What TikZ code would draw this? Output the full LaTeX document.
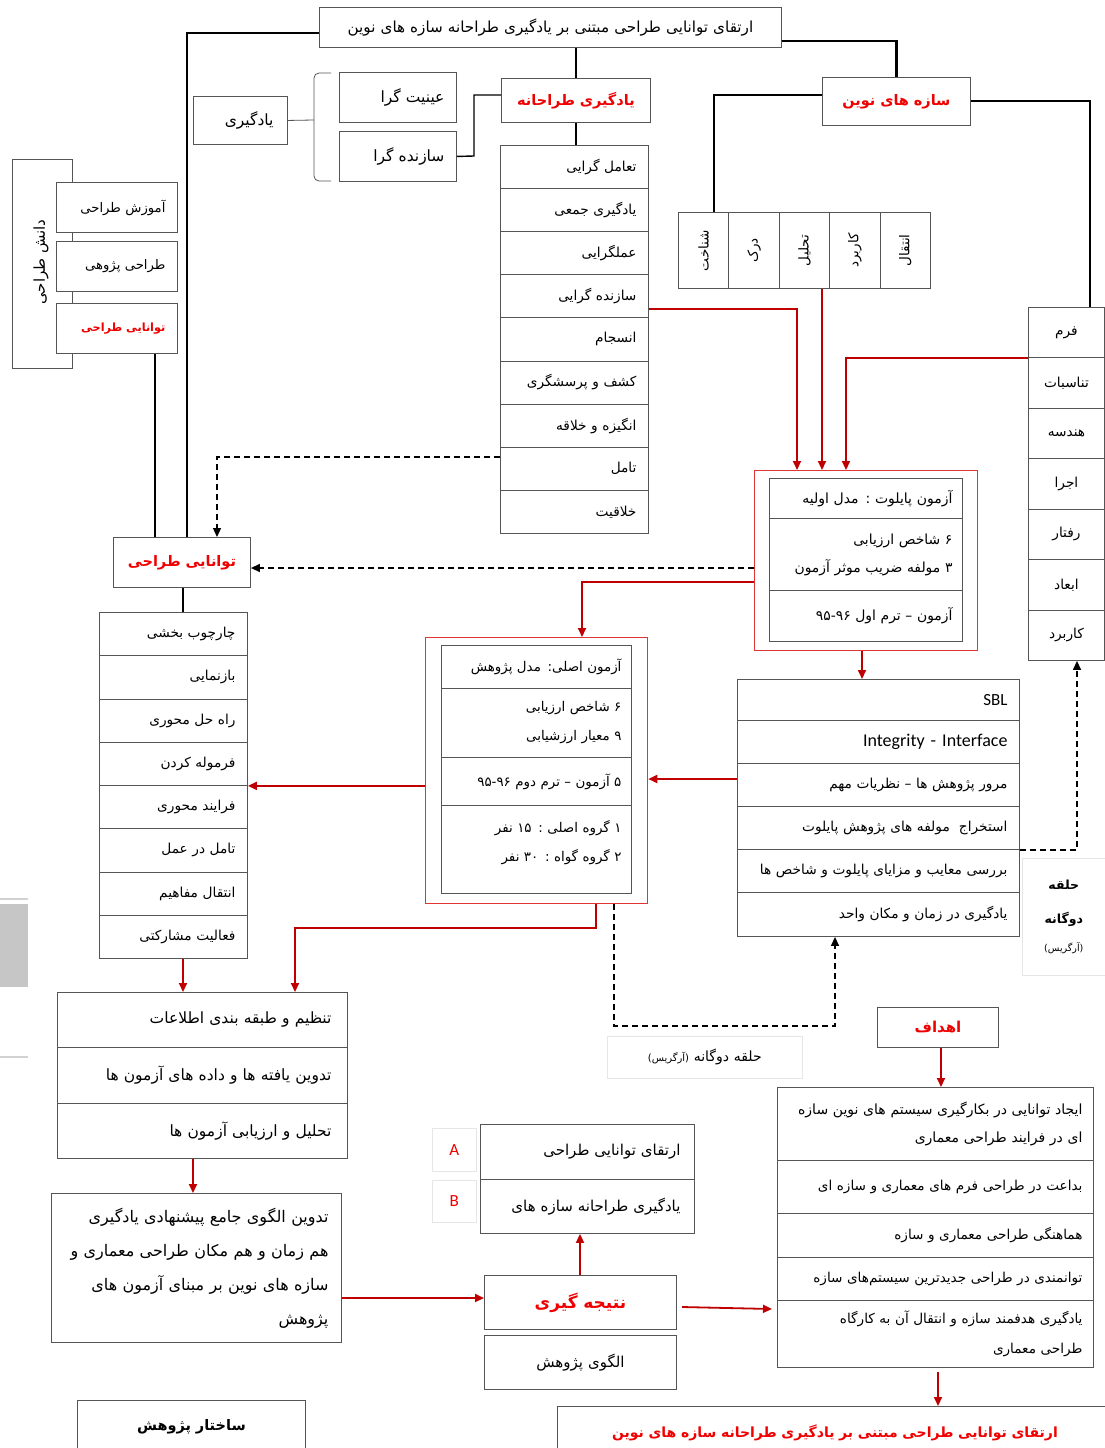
\documentclass[tikz,border=0pt]{standalone}
\usepackage{fontspec}
\usepackage{graphicx}
\newfontfamily\arabicfont[Script=Arabic]{DejaVu Sans}
\newfontfamily\latinfont{Carlito}
\TeXXeTstate=1
\usetikzlibrary{arrows.meta}
\definecolor{boxgray}{HTML}{555555}
\definecolor{rtext}{HTML}{F00000}
\definecolor{rline}{HTML}{C00000}
\definecolor{redframe}{HTML}{E03535}
\definecolor{faintgray}{HTML}{E6E6E6}
\newcommand\fa[1]{{\arabicfont\beginR #1\endR}}
\def\pad{12}
\newcommand\cell[7][]{%
  \pgfmathsetmacro\cellW{#5-#3}%
  \pgfmathsetmacro\cellH{#6-#4}%
  \pgfmathsetmacro\cellT{#5-#3-2*\pad}%
  \node[cellbox,inner xsep=\pad pt,minimum width=\cellW pt,minimum height=\cellH pt,text width=\cellT pt,anchor=north west,#1] (#2) at (#3,#4) {#7};}
\begin{document}
\begin{tikzpicture}[x=1pt,y=-1pt,
  cellbox/.style={draw=boxgray, line width=0.9pt, fill=white, inner ysep=0pt, align=right, font=\fontsize{13.7}{16}\selectfont},
  redbox/.style={draw=redframe, line width=1.3pt, fill=white},
  rb/.style={text=rtext, font=\fontsize{14.5}{17}\selectfont\bfseries, align=center},
  tline/.style={line width=2.4pt, black},
  mline/.style={line width=1.4pt, black},
  rarrow/.style={draw=rline, line width=1.8pt, -{Triangle[length=9pt,width=8pt]}},
  darrow/.style={draw=black, line width=1.3pt, dash pattern=on 6pt off 4pt, -{Triangle[length=9pt,width=8pt]}},
  faint/.style={draw=faintgray, line width=0.6pt}]
\fill[white] (0,0) rectangle (1105,1448);
\useasboundingbox (0,0) rectangle (1105,1448);

% left edge decorations
\fill[gray!45] (0,904) rectangle (28,987);
\draw[gray!35, line width=1.5pt] (0,899) -- (28,899);
\draw[gray!35, line width=1.5pt] (0,1057) -- (28,1057);

% ---------- top ----------
\cell[align=center, font=\fontsize{15.2}{18}\selectfont]{title}{319}{7}{781}{47}{\fa{ارتقای توانایی طراحی مبتنی بر یادگیری طراحانه سازه های نوین}}
\cell[rb]{yt}{501}{78}{650}{122}{\fa{یادگیری طراحانه}}
\cell[rb, font=\fontsize{14.5}{17}\selectfont\bfseries]{sn}{822}{77}{970}{125}{\fa{سازه های نوین}}
\cell[font=\fontsize{15.5}{18}\selectfont]{ob}{339}{72}{456}{122}{\fa{عینیت گرا}}
\cell[font=\fontsize{15.5}{18}\selectfont]{sz}{339}{131}{456}{181}{\fa{سازنده گرا}}
\def\pad{14}
\cell[font=\fontsize{15.5}{18}\selectfont]{yg}{193}{96}{287}{144}{\fa{یادگیری}}
\def\pad{12}
\draw[boxgray, line width=0.8pt, rounded corners=5pt] (331,73) -- (314,73) -- (314,181) -- (331,181);
\coordinate (brk) at (314,120);
\draw[boxgray, line width=0.8pt] (yg.east) -- (brk);

\draw[tline] (title.west |- 0,33) -| (187,537);
\draw[tline] (yt.north |- title.south) -- (yt.north);
\draw[tline] (title.east |- 0,41) -| (sn.north);
\draw[mline] (yt.west |- 0,95) -| (474,156) -- (sz.east);

% left group
\cell{dkframe}{12}{159}{72}{368}{}
\node[rotate=90, font=\fontsize{15}{18}\selectfont] (dktext) at (41,262) {\fa{دانش طراحی}};
\cell[font=\fontsize{13.2}{16}\selectfont]{a1}{56}{182}{177}{232}{\fa{آموزش طراحی}}
\cell[font=\fontsize{13.2}{16}\selectfont]{a2}{56}{241}{177}{291}{\fa{طراحی پژوهی}}
\cell[rb, font=\fontsize{11.3}{14}\selectfont\bfseries, align=right]{a3}{56}{303}{177}{353}{\fa{توانایی طراحی}}

% middle list
\foreach \i/\txt [count=\k from 0] in {1/{تعامل گرایی},2/{یادگیری جمعی},3/{عملگرایی},4/{سازنده گرایی},5/{انسجام},6/{کشف و پرسشگری},7/{انگیزه و خلاقه},8/{تامل},9/{خلاقیت}}{
  \pgfmathsetmacro\ya{145+43.1*\k}\pgfmathsetmacro\yb{145+43.1*(\k+1)}
  \cell{m\i}{500}{\ya}{648}{\yb}{\fa{\txt}}
}
\draw[tline] (yt.south) -- (m1.north -| yt.south);

% columns
\foreach \i/\txt [count=\k from 0] in {1/{شناخت},2/{درک},3/{تحلیل},4/{کاربرد},5/{انتقال}}{
  \pgfmathsetmacro\xa{678+50.4*\k}\pgfmathsetmacro\xb{678+50.4*(\k+1)}
  \cell{c\i}{\xa}{212}{\xb}{288}{}
  \node[rotate=90, font=\fontsize{13.5}{16}\selectfont] (ct\i) at (c\i) {\fa{\txt}};
}
\draw[mline] (sn.west |- 0,95) -| (c1.north -| 714,0);

% right list
\def\pad{4}
\foreach \i/\txt [count=\k from 0] in {1/{فرم},2/{تناسبات},3/{هندسه},4/{اجرا},5/{رفتار},6/{ابعاد},7/{کاربرد}}{
  \pgfmathsetmacro\ya{307+50.43*\k}\pgfmathsetmacro\yb{307+50.43*(\k+1)}
  \cell[align=center]{f\i}{1028}{\ya}{1104}{\yb}{\fa{\txt}}
}
\def\pad{12}
\draw[mline] (sn.east |- 0,101) -| (f1.north -| 1090,0);

% pilot box
\cell[redbox]{po}{754}{470}{977}{650}{}
\def\pad{10}
\cell[font=\fontsize{14}{16}\selectfont]{p1}{769}{478}{962}{518}{\fa{آزمون پایلوت : مدل اولیه}}
\cell[font=\fontsize{13.9}{28}\selectfont]{p2}{769}{518}{962}{590}{\fa{۶ شاخص ارزیابی}\\\fa{۳ مولفه ضریب موثر آزمون}}
\cell[font=\fontsize{13.9}{16}\selectfont]{p3}{769}{590}{962}{641}{\fa{آزمون – ترم اول ۹۵-۹۶}}
\def\pad{12}

\draw[rarrow] (m4.east |- 0,309) -| (po.north -| 797,0);
\draw[rarrow] (c3.south -| 822,0) -- (po.north -| 822,0);
\draw[rarrow] (f1.south west) -| (po.north -| 846,0);

% left big box
\cell[rb, font=\fontsize{14.5}{17}\selectfont\bfseries]{tb}{113}{537}{250}{587}{\fa{توانایی طراحی}}
\draw[line width=1.2pt] (a3.south -| 155,0) -- (tb.north -| 155,0);
\draw[darrow] (m8.west |- 0,457) -| (tb.north -| 217,0);
\draw[darrow] (po.west |- 0,568) -- (tb.east |- 0,568);

% left list
\foreach \i/\txt [count=\k from 0] in {1/{چارچوب بخشی},2/{بازنمایی},3/{راه حل محوری},4/{فرموله کردن},5/{فرایند محوری},6/{تامل در عمل},7/{انتقال مفاهیم},8/{فعالیت مشارکتی}}{
  \pgfmathsetmacro\ya{612+43.25*\k}\pgfmathsetmacro\yb{612+43.25*(\k+1)}
  \cell{l\i}{99}{\ya}{247}{\yb}{\fa{\txt}}
}
\draw[tline] (tb.south -| 183,0) -- (l1.north -| 183,0);

% SBL list
\cell[font=\latinfont\fontsize{17}{20}\selectfont]{s1}{737}{679}{1019}{720}{SBL}
\cell[font=\latinfont\fontsize{18}{21}\selectfont]{s2}{737}{720}{1019}{763}{Integrity - Interface}
\cell{s3}{737}{763}{1019}{806}{\fa{مرور پژوهش ها – نظریات مهم}}
\cell{s4}{737}{806}{1019}{849}{\fa{استخراج\ \ مولفه های پژوهش پایلوت}}
\cell{s5}{737}{849}{1019}{892}{\fa{بررسی معایب و مزایای پایلوت و شاخص ها}}
\cell{s6}{737}{892}{1019}{936}{\fa{یادگیری در زمان و مکان واحد}}
\draw[rarrow] (po.south -| 862,0) -- (s1.north -| 862,0);
\draw[darrow] (s4.south east) -| (f7.south -| 1077,0);

\def\pad{4}
\cell[faint, align=center, font=\fontsize{12.5}{34}\selectfont\bfseries]{dl1}{1022}{858}{1105}{975}{\fa{حلقه}\\\fa{دوگانه}\\[-6pt]{\fontsize{9.5}{11}\selectfont\mdseries\fa{(آرگریس)}}}
\def\pad{12}

% main box
\cell[redbox]{mo}{425}{637}{647}{903}{}
\def\pad{10}
\cell[font=\fontsize{13.4}{16}\selectfont]{q1}{441}{645}{631}{688}{\fa{آزمون اصلی: مدل پژوهش}}
\cell[font=\fontsize{13.4}{29}\selectfont]{q2}{441}{688}{631}{757}{\fa{۶ شاخص ارزیابی}\\\fa{۹ معیار ارزشیابی}}
\cell[font=\fontsize{13.4}{16}\selectfont]{q3}{441}{757}{631}{805}{\fa{۵ آزمون – ترم دوم ۹۵-۹۶}}
\cell[font=\fontsize{13.4}{29}\selectfont]{q4}{441}{805}{631}{893}{\fa{۱ گروه اصلی : ۱۵ نفر}\\\fa{۲ گروه گواه : ۳۰ نفر}\\[-12pt]\mbox{}}
\def\pad{12}

\draw[rarrow] (po.west |- 0,582) -| (mo.north -| 582,0);
\draw[rarrow] (s3.west |- 0,779) -- (mo.east |- 0,779);
\draw[rarrow] (mo.west |- l4.south east) -- (l4.south east);
\draw[darrow] (mo.south -| 614,0) -- (614,1026) -| (s6.south -| 835,0);

\cell[faint, align=center, font=\fontsize{14}{17}\selectfont]{dl2}{607}{1036}{802}{1078}{\fa{حلقه دوگانه {\fontsize{10}{12}\selectfont (آرگریس)}}}

% processing boxes
\def\pad{16}
\cell[font=\fontsize{15.5}{18}\selectfont]{k1}{57}{992}{347}{1047}{\fa{تنظیم و طبقه بندی اطلاعات}}
\cell[font=\fontsize{15.5}{18}\selectfont]{k2}{57}{1047}{347}{1103}{\fa{تدوین یافته ها و داده های آزمون ها}}
\cell[font=\fontsize{15.5}{18}\selectfont]{k3}{57}{1103}{347}{1158}{\fa{تحلیل و ارزیابی آزمون ها}}
\def\pad{13}
\cell[font=\fontsize{16}{34}\selectfont]{td}{51}{1193}{341}{1342}{\fa{تدوین الگوی جامع پیشنهادی یادگیری}\\\fa{هم زمان و هم مکان طراحی معماری و}\\\fa{سازه های نوین بر مبنای آزمون های}\\\fa{پژوهش}}
\def\pad{12}
\draw[rarrow] (mo.south -| 596,0) -- (596,928) -| (k1.north -| 295,0);
\draw[rarrow] (l8.south -| 183,0) -- (k1.north -| 183,0);
\draw[rarrow] (k3.south -| 193,0) -- (td.north -| 193,0);

\cell[rb, font=\fontsize{17}{20}\selectfont\bfseries]{nt}{484}{1275}{676}{1329}{\fa{نتیجه گیری}}
\cell[align=center, font=\fontsize{15}{18}\selectfont]{ng}{484}{1335}{676}{1389}{\fa{الگوی پژوهش}}
\draw[rarrow] (td.east |- 0,1298) -- (nt.west |- 0,1298);

\def\pad{14}
\cell[font=\fontsize{15}{18}\selectfont]{ab1}{480}{1124}{694}{1179}{\fa{ارتقای توانایی طراحی}}
\cell[font=\fontsize{15}{18}\selectfont]{ab2}{480}{1179}{694}{1233}{\fa{یادگیری طراحانه سازه های}}
\def\pad{2}
\cell[faint, align=center, text=rtext, font=\latinfont\fontsize{17}{20}\selectfont]{la}{432}{1128}{476}{1171}{A}
\cell[faint, align=center, text=rtext, font=\latinfont\fontsize{17}{20}\selectfont]{lb}{432}{1180}{476}{1222}{B}
\def\pad{12}
\draw[rarrow] (nt.north -| 580,0) -- (ab2.south -| 580,0);

% goals
\cell[rb, font=\fontsize{15}{18}\selectfont\bfseries]{hd}{877}{1007}{998}{1047}{\fa{اهداف}}
\def\pad{11}
\cell[font=\fontsize{14}{28}\selectfont]{g1}{777}{1087}{1093}{1160}{\fa{ایجاد توانایی در بکارگیری سیستم های نوین سازه}\\\fa{ای در فرایند طراحی معماری}}
\cell[font=\fontsize{13.6}{16}\selectfont]{g2}{777}{1160}{1093}{1213}{\fa{بداعت در طراحی فرم های معماری و سازه ای}}
\cell[font=\fontsize{13.6}{16}\selectfont]{g3}{777}{1213}{1093}{1257}{\fa{هماهنگی طراحی معماری و سازه}}
\cell[font=\fontsize{13.6}{16}\selectfont]{g4}{777}{1257}{1093}{1300}{\fa{توانمندی در طراحی جدیدترین سیستم‌های سازه}}
\cell[font=\fontsize{13.6}{30}\selectfont]{g5}{777}{1300}{1093}{1367}{\fa{یادگیری هدفمند سازه و انتقال آن به کارگاه}\\\fa{طراحی معماری}}
\def\pad{12}
\draw[rarrow] (hd.south -| 941,0) -- (g1.north -| 941,0);
\coordinate (ntout) at (682,1307);
\coordinate (gin) at (772,1309);
\draw[rarrow] (ntout) -- (gin);

\cell[rb, font=\fontsize{14}{17}\selectfont\bfseries]{fb}{557}{1406}{1112}{1458}{\fa{ارتقای توانایی طراحی مبتنی بر یادگیری طراحانه سازه های نوین}}
\coordinate (gout) at (938,1372);
\draw[rarrow] (gout) -- (fb.north -| gout);
\cell[align=center, font=\fontsize{14.5}{17}\selectfont\bfseries]{st}{77}{1400}{305}{1452}{\fa{ساختار پژوهش}}
\end{tikzpicture}
\end{document}
